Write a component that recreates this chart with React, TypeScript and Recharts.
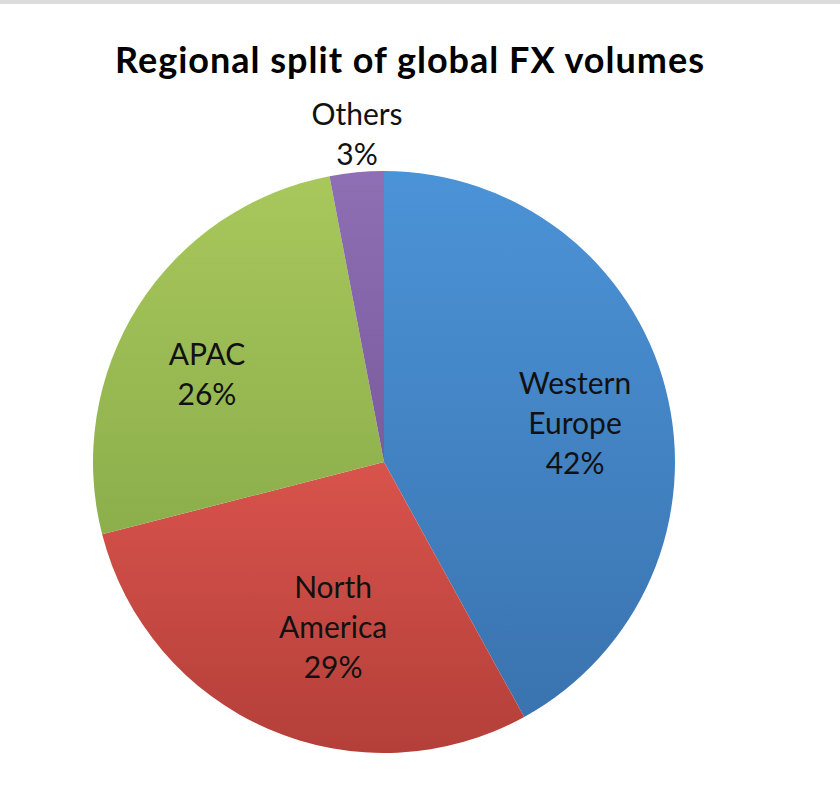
import React from 'react';
import { PieChart, Pie, Cell } from 'recharts';

const regions = ['Western Europe', 'North America', 'APAC', 'Others'];
const shares = [42, 29, 26, 3];

// top / bottom colours of each slice's gradient
const topColors = ['#4B93D7', '#D8534C', '#A8C85C', '#8E6FB5'];
const bottomColors = ['#3A73AF', '#B43F39', '#8CAE4B', '#7A5B9D'];

const data = regions.map((name, i) => ({ name, value: shares[i] }));

const FONT = 'Lato, "Open Sans", sans-serif';
const RAD = Math.PI / 180;

// Excel "best fit" label placement, per slice: radius factor (or outside offset) and angle nudge
const labelRadius = [0.67, 0.595, 0.678, 0];
const labelOutside = [0, 0, 0, 38];
const labelNudge = [-2.9, 6.3, 6.2, -0.7];

const SliceLabel: React.FC<any> = (props) => {
  const { cx, cy, midAngle, outerRadius, index, name, value } = props;
  const lines = [...name.split(' '), `${value}%`];
  const r = labelOutside[index] ? outerRadius + labelOutside[index] : outerRadius * labelRadius[index];
  const angle = midAngle + labelNudge[index];
  const x = cx + r * Math.cos(-angle * RAD);
  const y = cy + r * Math.sin(-angle * RAD);
  const lineHeight = 40;
  // first baseline, so the block of lines is centred on (x, y)
  const y0 = y - ((lines.length - 1) * lineHeight) / 2 + 10.5;

  return (
    <text x={x} y={y0} textAnchor="middle" fill="#111" fontSize={30} fontFamily={FONT}>
      {lines.map((line, i) => (
        <tspan key={i} x={x} dy={i === 0 ? 0 : lineHeight}>
          {line}
        </tspan>
      ))}
    </text>
  );
};

export default function App() {
  return (
    <div style={{ position: 'relative', width: 840, height: 812, background: '#fff', overflow: 'hidden' }}>
      <style>{'body { margin: 0; }'}</style>
      <div style={{ position: 'absolute', left: 0, top: 0, width: 840, height: 4, background: '#dcdcdc' }} />
      <div
        style={{
          position: 'absolute',
          left: 0,
          top: 37,
          width: 820,
          textAlign: 'center',
          fontFamily: FONT,
          fontWeight: 700,
          fontSize: 36,
          letterSpacing: 1,
          color: '#000',
        }}
      >
        Regional split of global FX volumes
      </div>
      <PieChart width={840} height={812} margin={{ top: 0, right: 0, bottom: 0, left: 0 }}>
        <defs>
          {regions.map((r, i) => (
            <linearGradient key={r} id={`grad${i}`} x1="0" y1="0" x2="0" y2="1">
              <stop offset="0%" stopColor={topColors[i]} />
              <stop offset="100%" stopColor={bottomColors[i]} />
            </linearGradient>
          ))}
        </defs>
        <Pie
          data={data}
          dataKey="value"
          nameKey="name"
          cx={384}
          cy={462}
          outerRadius={291}
          startAngle={90}
          endAngle={-270}
          stroke="none"
          labelLine={false}
          label={<SliceLabel />}
          isAnimationActive={false}
        >
          {data.map((d, i) => (
            <Cell key={d.name} fill={`url(#grad${i})`} />
          ))}
        </Pie>
      </PieChart>
    </div>
  );
}
